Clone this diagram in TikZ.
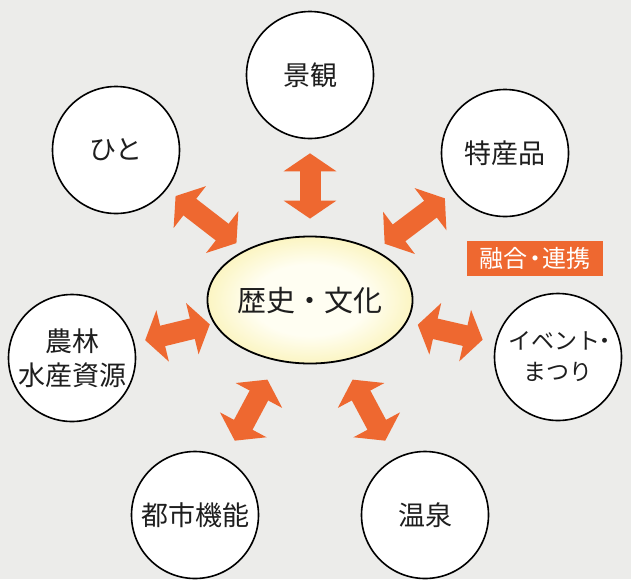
\documentclass[tikz,border=0pt]{standalone}
\usepackage{fontspec}
\setmainfont{Noto Sans CJK JP}
\usetikzlibrary{shapes.geometric,arrows.meta}
\definecolor{bgc}{RGB}{236,236,234}
\definecolor{orng}{RGB}{238,104,48}
\definecolor{ylin}{RGB}{255,254,242}
\definecolor{ylmid}{RGB}{251,244,190}
\definecolor{ylout}{RGB}{240,222,80}
\definecolor{txt}{RGB}{30,30,30}
\pgfdeclareradialshading{ellshade}{\pgfpoint{0bp}{0bp}}{color(0bp)=(ylin); color(14bp)=(ylin); color(26bp)=(ylmid); color(35bp)=(ylout); color(50bp)=(ylout)}
\newcommand{\ndot}{\kern-0.2em・\kern-0.2em}
\tikzset{
  topic/.style={circle, draw=black, line width=1.6pt, fill=white, minimum size=127pt,
    inner sep=0pt, align=center, font=\fontsize{27}{34}\selectfont, text=txt},
  core/.style={ellipse, draw=black, line width=1.8pt, minimum width=204pt, minimum height=127pt,
    inner sep=0pt, shading=ellshade, font=\fontsize{29}{34}\selectfont, text=txt},
  tag/.style={rectangle, fill=orng, text=white, minimum width=136pt, minimum height=35pt,
    inner sep=0pt, font=\fontsize{24}{28}\selectfont},
  bigarrow/.style={draw=orng, line width=21pt, line cap=butt,
    {Triangle[width=52pt,length=18pt,fill=orng]}-{Triangle[width=52pt,length=18pt,fill=orng]}}
}
\begin{document}
\begin{tikzpicture}[x=1pt,y=-1pt]
\fill[bgc] (0,0) rectangle (631,579);
\useasboundingbox (0,0) rectangle (631,579);

\node[core] (hist) at (310,300) {歴史・文化};

\node[topic] (keikan) at (310,75) {景観};
\node[topic] (hito) at (116,150) {ひと};
\node[topic] (toku) at (505,153) {特産品};
\node[topic] (nour) at (72,358) {農林\\水産資源};
\node[topic, font=\fontsize{23}{31}\selectfont] (event) at (558,357) {イベント\kern-0.3em・\kern-0.4em\\まつり};
\node[topic] (toshi) at (195,515) {都市機能};
\node[topic] (onsen) at (425,515) {温泉};

\node[tag] (yugo) at (535,258) {融合\ndot 連携};

\draw[bigarrow, shorten <=17pt, shorten >=14pt] (hist) -- (keikan);
\draw[bigarrow, shorten <=11pt, shorten >=11pt] (hist) -- (hito);
\draw[bigarrow, shorten <=11pt, shorten >=11pt] (hist) -- (toku);
\draw[bigarrow, shorten <=4pt, shorten >=11pt] (hist) -- (nour);
\draw[bigarrow, shorten <=11pt, shorten >=13pt] (hist) -- (event);
\draw[bigarrow, shorten <=21pt, shorten >=20pt] (hist) -- (toshi);
\draw[bigarrow, shorten <=21pt, shorten >=20pt] (hist) -- (onsen);
\end{tikzpicture}
\end{document}
